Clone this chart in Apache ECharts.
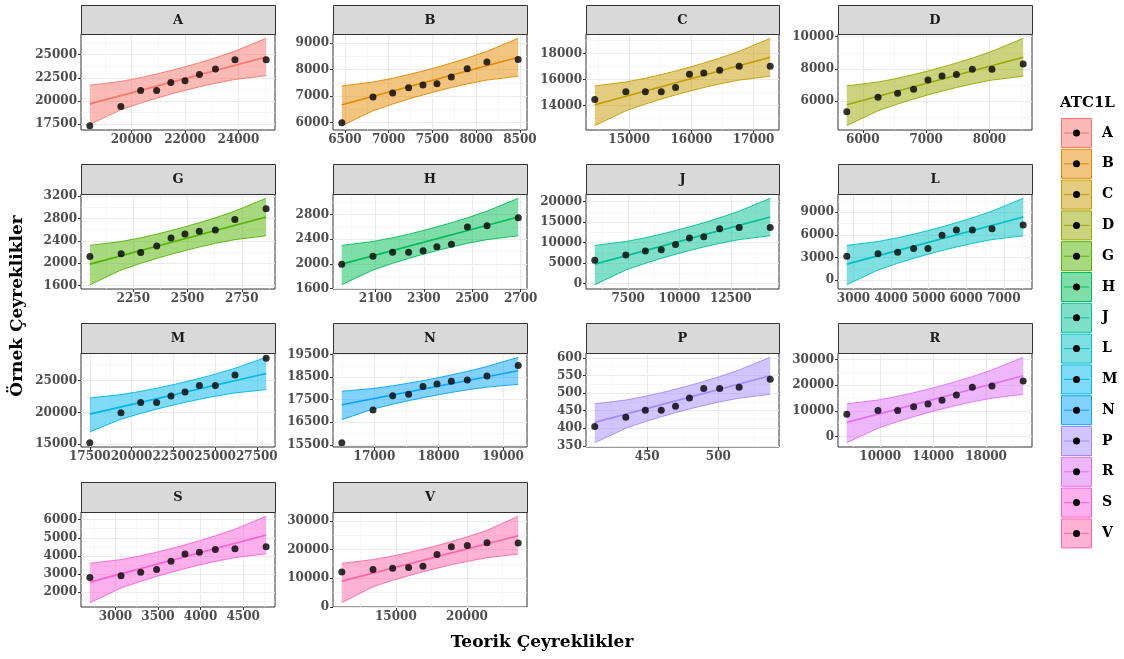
<!DOCTYPE html>
<html><head><meta charset="utf-8">
<script src="https://cdn.jsdelivr.net/npm/echarts@6/dist/echarts.min.js"></script>
<style>html,body{margin:0;padding:0;background:#fff}#c{width:1124px;height:659px}</style>
</head><body><div id="c"></div><script>
const panelNames = ['A','B','C','D','G','H','J','L','M','N','P','R','S','V'];
const palette = ['#F8766D','#E38900','#C49A00','#99A800','#53B400','#00BC56','#00C094','#00BFC4','#00B6EB','#06A4FF','#A58AFF','#DF70F8','#FB61D7','#FF66A8'];

// ---- data: theoretical quantiles (x), sample quantiles (y), qq line ends, band upper/lower ----
const xA=[18438,19600,20340,20938,21470,22000,22540,23140,23870,25038];
const yA=[17320,19380,21120,21120,21990,22170,22860,23440,24460,24460];
const lnA=[19674,24746];
const hiA=[21692,22105,22513,22902,23285,23688,24131,24660,25383,26763];
const loA=[17457,19037,19760,20289,20732,21135,21518,21907,22315,22728];

const xB=[6465,6821,7046,7228,7392,7552,7716,7898,8123,8480];
const yB=[6000,6966,7119,7322,7424,7475,7729,8034,8288,8390];
const lnB=[6674,8470];
const hiB=[7389,7535,7679,7817,7953,8096,8252,8440,8696,9185];
const loB=[5889,6448,6704,6892,7048,7191,7327,7465,7609,7755];

const xC=[14446,14946,15260,15516,15746,15970,16200,16456,16770,17269];
const yC=[14465,15059,15059,15059,15394,16400,16504,16710,17020,17020];
const lnC=[14053,17716];
const hiC=[15511,15809,16104,16385,16662,16953,17273,17655,18177,19174];
const loC=[12451,13593,14115,14497,14817,15108,15385,15666,15961,16259];

const xD=[5747,6240,6550,6802,7029,7251,7478,7730,8040,8533];
const yD=[5340,6247,6495,6742,7319,7567,7649,7979,7979,8309];
const lnD=[5773,8722];
const hiD=[6947,7187,7424,7650,7873,8108,8365,8673,9093,9895];
const loD=[4484,5403,5823,6131,6388,6623,6846,7072,7309,7549];

const xG=[2050,2194,2284,2358,2424,2488,2554,2628,2718,2862];
const yG=[2121,2169,2193,2311,2453,2524,2572,2596,2785,2975];
const lnG=[1985,2827];
const hiG=[2320,2389,2456,2521,2585,2651,2725,2813,2933,3162];
const loG=[1617,1879,1999,2087,2161,2227,2291,2356,2423,2492];

const xH=[1961,2090,2171,2237,2297,2354,2414,2480,2561,2690];
const yH=[1995,2124,2189,2189,2211,2276,2319,2600,2622,2751];
const lnH=[1995,2762];
const hiH=[2300,2363,2424,2483,2541,2602,2669,2749,2858,3067];
const loH=[1660,1899,2008,2088,2155,2216,2274,2333,2394,2457];

const xJ=[5871,7383,8337,9111,9807,10487,11183,11957,12911,14423];
const yJ=[5737,7012,7968,8287,9562,11155,11474,13386,13705,13705];
const lnJ=[4781,16255];
const hiJ=[9346,10281,11204,12083,12950,13863,14864,16061,17697,20819];
const loJ=[-235,3339,4975,6172,7173,8086,8953,9832,10755,11690];

const xL=[2822,3652,4175,4600,4982,5356,5738,6163,6686,7516];
const yL=[3159,3505,3678,4197,4197,5928,6620,6620,6793,7313];
const lnL=[2120,8351];
const hiL=[4600,5107,5609,6086,6557,7053,7596,8247,9135,10831];
const loL=[-605,1337,2225,2876,3419,3915,4386,4863,5365,5872];

const xM=[17500,19367,20544,21500,22360,23200,24060,25016,26193,28060];
const yM=[15255,19949,21582,21582,22602,23214,24235,24235,25867,28520];
const lnM=[19745,26122];
const hiM=[22283,22802,23315,23804,24286,24793,25349,26015,26924,28659];
const loM=[16957,18944,19853,20519,21075,21582,22064,22553,23066,23585];

const xN=[16493,16978,17284,17532,17755,17973,18196,18444,18750,19235];
const yN=[15601,17045,17681,17738,18085,18200,18316,18374,18547,19009];
const lnN=[17276,18778];
const hiN=[17874,17996,18117,18232,18345,18465,18596,18753,18967,19376];
const loN=[16619,17087,17301,17458,17589,17709,17822,17937,18058,18180];

const xP=[413.2,435.0,448.7,459.9,469.9,479.7,489.7,500.9,514.6,536.4];
const yP=[405.5,431.4,451.5,451.5,463.0,486.0,512.8,512.8,516.7,539.6];
const lnP=[417.0,549.2];
const hiP=[469.6,480.4,491.0,501.1,511.1,521.6,533.2,547.0,565.8,601.8];
const loP=[359.2,400.4,419.2,433.0,444.6,455.1,465.1,475.2,485.8,496.6];

const xR=[7476,9832,11319,12525,13610,14670,15755,16961,18447,20803];
const yR=[8625,10125,10125,11625,12625,14125,16125,19125,19625,21625];
const lnR=[5500,23625];
const hiR=[12711,14187,15646,17034,18405,19846,21428,23320,25903,30836];
const loR=[-2426,3221,5804,7696,9278,10719,12090,13478,14937,16413];

const xS=[2700,3066,3297,3484,3653,3817,3986,4173,4404,4770];
const yS=[2800,2900,3100,3250,3700,4100,4200,4350,4400,4500];
const lnS=[2550,5150];
const hiS=[3585,3796,4005,4204,4401,4608,4834,5106,5476,6184];
const loS=[1414,2224,2594,2866,3092,3299,3496,3695,3904,4115];

const xV=[11200,13392,14775,15897,16907,17893,18903,20025,21408,23600];
const yV=[12200,13100,13500,13800,14200,18300,21000,21400,22400,22300];
const lnV=[9000,24800];
const hiV=[15200,16500,17750,18950,20150,21400,22800,24450,26700,31600];
const loV=[1500,7050,9300,10900,12250,13500,14700,15900,17150,18450];

// ---- tick labels ----
const xtA=[20000,22000,24000], ytA=[17500,20000,22500,25000];
const xtB=[6500,7000,7500,8000,8500], ytB=[6000,7000,8000,9000];
const xtC=[15000,16000,17000], ytC=[14000,16000,18000];
const xtD=[6000,7000,8000], ytD=[6000,8000,10000];
const xtG=[2250,2500,2750], ytG=[1600,2000,2400,2800,3200];
const xtH=[2100,2300,2500,2700], ytH=[1600,2000,2400,2800];
const xtJ=[7500,10000,12500], ytJ=[0,5000,10000,15000,20000];
const xtL=[3000,4000,5000,6000,7000], ytL=[0,3000,6000,9000];
const xtM=[17500,20000,22500,25000,27500], ytM=[15000,20000,25000];
const xtN=[17000,18000,19000], ytN=[15500,16500,17500,18500,19500];
const xtP=[450,500], ytP=[350,400,450,500,550,600];
const xtR=[10000,14000,18000], ytR=[0,10000,20000,30000];
const xtS=[3000,3500,4000,4500], ytS=[2000,3000,4000,5000,6000];
const xtV=[15000,20000], ytV=[0,10000,20000,30000];

const DATA = {
  A:{x:xA,y:yA,ln:lnA,hi:hiA,lo:loA,xt:xtA,yt:ytA}, B:{x:xB,y:yB,ln:lnB,hi:hiB,lo:loB,xt:xtB,yt:ytB},
  C:{x:xC,y:yC,ln:lnC,hi:hiC,lo:loC,xt:xtC,yt:ytC}, D:{x:xD,y:yD,ln:lnD,hi:hiD,lo:loD,xt:xtD,yt:ytD},
  G:{x:xG,y:yG,ln:lnG,hi:hiG,lo:loG,xt:xtG,yt:ytG}, H:{x:xH,y:yH,ln:lnH,hi:hiH,lo:loH,xt:xtH,yt:ytH},
  J:{x:xJ,y:yJ,ln:lnJ,hi:hiJ,lo:loJ,xt:xtJ,yt:ytJ}, L:{x:xL,y:yL,ln:lnL,hi:hiL,lo:loL,xt:xtL,yt:ytL},
  M:{x:xM,y:yM,ln:lnM,hi:hiM,lo:loM,xt:xtM,yt:ytM}, N:{x:xN,y:yN,ln:lnN,hi:hiN,lo:loN,xt:xtN,yt:ytN},
  P:{x:xP,y:yP,ln:lnP,hi:hiP,lo:loP,xt:xtP,yt:ytP}, R:{x:xR,y:yR,ln:lnR,hi:hiR,lo:loR,xt:xtR,yt:ytR},
  S:{x:xS,y:yS,ln:lnS,hi:hiS,lo:loS,xt:xtS,yt:ytS}, V:{x:xV,y:yV,ln:lnV,hi:hiV,lo:loV,xt:xtV,yt:ytV}
};

// ---- layout (panel positions, axis ranges) ----
const COLS=[[81,275],[333,527],[586,779],[838,1032]];
const ROWS=[[5,34,130],[164,194,289],[323,353,447],[482,512,607]];
const RANGES = {
  A:[[18108,25368],[16848,27235]], B:[[6364,8581],[5724,9350]], C:[[14305,17410],[12115,19510]],
  D:[[5608,8672],[4213,10166]], G:[[2009,2903],[1540,3239]], H:[[1925,2726],[1590,3137]],
  J:[[5443,14851],[-1288,21872]], L:[[2587,7751],[-1177,11403]], M:[[16972,28588],[14585,29329]],
  N:[[16356,19372],[15412,19565]], P:[[407.04,542.56],[347.1,613.9]], R:[[6810,21469],[-4089,32499]],
  S:[[2596,4874],[1176,6423]], V:[[10580,24220],[-10,33100]]
};

function rgba(hex,a){const n=parseInt(hex.slice(1),16);return `rgba(${n>>16},${(n>>8)&255},${n&255},${a})`;}
function minors(t,r){const s=t.length>1?t[1]-t[0]:(r[1]-r[0])/2;const o=[];for(let k=-6;k<t.length+6;k++){const v=t[0]+s*k+s/2;if(v>r[0]&&v<r[1])o.push(v);}return o;}

const FONT='DejaVu Serif';
const grids=[],xAxes=[],yAxes=[],series=[],graphics=[];
panelNames.forEach((nm,i)=>{
  const d=DATA[nm], col=COLS[i%4], row=ROWS[Math.floor(i/4)], rg=RANGES[nm], color=palette[i];
  grids.push({left:col[0],top:row[1],width:col[1]-col[0],height:row[2]-row[1],show:true,borderColor:'#333333',borderWidth:1,backgroundColor:'#ffffff',containLabel:false,outerBoundsMode:'none'});
  const axisCommon=(ticks)=>({type:'value',axisLine:{show:false},splitLine:{show:false},
    axisTick:{show:true,customValues:ticks,length:3,lineStyle:{color:'#333333',width:1}},
    axisLabel:{customValues:ticks,interval:0,formatter:v=>String(v),color:'#4d4d4d',fontFamily:FONT,fontWeight:'bold',fontSize:12,margin:4,hideOverlap:false,showMinLabel:true,showMaxLabel:true}});
  xAxes.push(Object.assign(axisCommon(d.xt),{gridIndex:i,min:rg[0][0],max:rg[0][1]}));
  yAxes.push(Object.assign(axisCommon(d.yt),{gridIndex:i,min:rg[1][0],max:rg[1][1]}));
  const minorStyle={color:'#f2f2f2',width:0.7,type:'solid'}, majorStyle={color:'#ebebeb',width:1.2,type:'solid'};
  const ml=[].concat(
    minors(d.xt,rg[0]).map(v=>({xAxis:v,lineStyle:minorStyle})),
    minors(d.yt,rg[1]).map(v=>({yAxis:v,lineStyle:minorStyle})),
    d.xt.map(v=>({xAxis:v,lineStyle:majorStyle})),
    d.yt.map(v=>({yAxis:v,lineStyle:majorStyle})));
  series.push({type:'line',xAxisIndex:i,yAxisIndex:i,data:[[d.x[0],d.y[0]]],symbol:'none',lineStyle:{opacity:0},silent:true,z:1,
    markLine:{silent:true,symbol:['none','none'],label:{show:false},animation:false,z:1,data:ml}});
  series.push({type:'custom',xAxisIndex:i,yAxisIndex:i,z:2,silent:true,data:[[d.x[0],d.lo[0]]],
    renderItem:(p,api)=>{const pts=[];for(let k=0;k<d.x.length;k++)pts.push(api.coord([d.x[k],d.hi[k]]));
      for(let k=d.x.length-1;k>=0;k--)pts.push(api.coord([d.x[k],d.lo[k]]));
      return {type:'polygon',shape:{points:pts},style:{fill:rgba(color,0.5),stroke:null}};}});
  series.push({type:'line',xAxisIndex:i,yAxisIndex:i,z:3,silent:true,symbol:'none',data:d.x.map((v,k)=>[v,d.hi[k]]),lineStyle:{color:color,width:0.9}});
  series.push({type:'line',xAxisIndex:i,yAxisIndex:i,z:3,silent:true,symbol:'none',data:d.x.map((v,k)=>[v,d.lo[k]]),lineStyle:{color:color,width:0.9}});
  series.push({type:'line',xAxisIndex:i,yAxisIndex:i,z:4,silent:true,symbol:'none',data:[[d.x[0],d.ln[0]],[d.x[d.x.length-1],d.ln[1]]],lineStyle:{color:color,width:1.6}});
  series.push({type:'scatter',xAxisIndex:i,yAxisIndex:i,z:5,silent:true,symbolSize:7,data:d.x.map((v,k)=>[v,d.y[k]]),itemStyle:{color:'#000000'}});
  // strip
  graphics.push({type:'rect',shape:{x:col[0]+0.5,y:row[0]+0.5,width:col[1]-col[0],height:row[1]-row[0]},style:{fill:'#d9d9d9',stroke:'#333333',lineWidth:1},z:10});
  graphics.push({type:'text',x:(col[0]+col[1])/2,y:(row[0]+row[1])/2+1,style:{text:nm,align:'center',verticalAlign:'middle',fill:'#1a1a1a',fontFamily:FONT,fontWeight:'bold',fontSize:13},z:11});
  // legend key
  const ky=118+30.8*i;
  graphics.push({type:'rect',shape:{x:1061.5,y:ky+0.5,width:30,height:29},style:{fill:rgba(color,0.5),stroke:color,lineWidth:1},z:10});
  graphics.push({type:'line',shape:{x1:1064,y1:ky+15,x2:1089,y2:ky+15},style:{stroke:color,lineWidth:1},z:11});
  graphics.push({type:'circle',shape:{cx:1076.5,cy:ky+15,r:3.5},style:{fill:'#000000'},z:12});
  graphics.push({type:'text',x:1102,y:ky+15,style:{text:nm,align:'left',verticalAlign:'middle',fill:'#000000',fontFamily:FONT,fontWeight:'bold',fontSize:14},z:11});
});
graphics.push({type:'text',x:1060,y:103,style:{text:'ATC1L',align:'left',verticalAlign:'middle',fill:'#000000',fontFamily:FONT,fontWeight:'bold',fontSize:15},z:11});
graphics.push({type:'text',x:542,y:643,style:{text:'Teorik Çeyreklikler',align:'center',verticalAlign:'middle',fill:'#000000',fontFamily:FONT,fontWeight:'bold',fontSize:17},z:11});
graphics.push({type:'text',x:18,y:306,rotation:Math.PI/2,style:{text:'Örnek Çeyreklikler',align:'center',verticalAlign:'middle',fill:'#000000',fontFamily:FONT,fontWeight:'bold',fontSize:17},z:11});

const chart=echarts.init(document.getElementById('c'),null,{renderer:'canvas'});
chart.setOption({animation:false,backgroundColor:'#ffffff',grid:grids,xAxis:xAxes,yAxis:yAxes,series:series,graphic:{elements:graphics}});
</script></body></html>
